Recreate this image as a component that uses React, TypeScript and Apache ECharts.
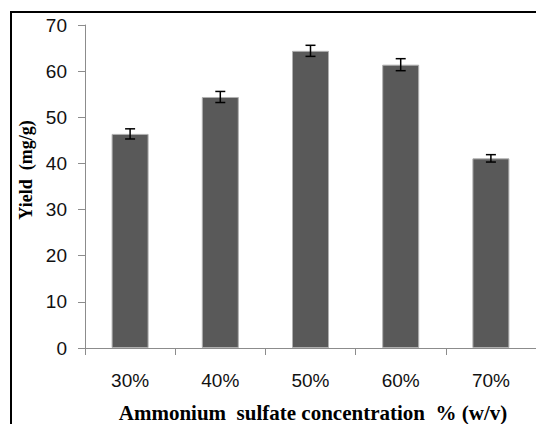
import React, { useEffect, useRef } from "react";
import * as echarts from "echarts";

const categories = ["30%", "40%", "50%", "60%", "70%"];
const yieldValues = [46.4, 54.4, 64.4, 61.4, 41.1];
const errorValues = [1.1, 1.2, 1.2, 1.3, 0.8];
const yTicks = { min: 0, max: 70, interval: 10 };
const xTitle = "Ammonium  sulfate concentration  % (w/v)";
const yTitle = "Yield  (mg/g)";

export default function App() {
  const ref = useRef<HTMLDivElement>(null);
  useEffect(() => {
    if (!ref.current) return;
    const chart = echarts.init(ref.current, null, { renderer: "svg" });
    const errData = yieldValues.map((v, i) => [i, v - errorValues[i], v + errorValues[i]]);
    chart.setOption({
      animation: false,
      backgroundColor: "#ffffff",
      grid: { left: 85, top: 25, width: 455, height: 323 },
      xAxis: {
        type: "category",
        data: categories,
        axisLine: { lineStyle: { color: "#8c8c8c", width: 1 } },
        axisTick: { show: true, length: 7, lineStyle: { color: "#8c8c8c" } },
        axisLabel: {
          color: "#111",
          fontSize: 19,
          fontFamily: "Liberation Sans",
          margin: 23,
        },
      },
      yAxis: {
        type: "value",
        min: yTicks.min,
        max: yTicks.max,
        interval: yTicks.interval,
        splitLine: { show: false },
        axisLine: { show: true, lineStyle: { color: "#8c8c8c", width: 1 } },
        axisTick: { show: true, length: 7, lineStyle: { color: "#8c8c8c" } },
        axisLabel: {
          color: "#111",
          fontSize: 19,
          fontFamily: "Liberation Sans",
          margin: 18,
        },
      },
      series: [
        {
          type: "bar",
          data: yieldValues,
          barWidth: 37,
          itemStyle: { color: "#595959", borderColor: "#b0b0b0", borderWidth: 1 },
        },
        {
          type: "custom",
          data: errData,
          z: 10,
          renderItem: (params: any, api: any) => {
            const x = api.value(0);
            const lo = api.coord([x, api.value(1)]);
            const hi = api.coord([x, api.value(2)]);
            const cx = lo[0];
            const w = 5;
            const style = { stroke: "#000", lineWidth: 1.5 };
            return {
              type: "group",
              children: [
                { type: "line", shape: { x1: cx, y1: lo[1], x2: cx, y2: hi[1] }, style },
                { type: "line", shape: { x1: cx - w, y1: lo[1], x2: cx + w, y2: lo[1] }, style },
                { type: "line", shape: { x1: cx - w, y1: hi[1], x2: cx + w, y2: hi[1] }, style },
              ],
            };
          },
        },
      ],
      graphic: [
        {
          type: "rect",
          shape: { x: 11, y: 12, width: 600, height: 600 },
          style: { fill: "none", stroke: "#000", lineWidth: 2 },
          silent: true,
        },
        {
          type: "text",
          x: 313,
          y: 413,
          style: {
            text: xTitle,
            fill: "#000",
            fontSize: 21,
            fontWeight: "bold",
            fontFamily: "Liberation Serif",
            align: "center",
            verticalAlign: "middle",
          },
        },
        {
          type: "text",
          x: 26,
          y: 170,
          rotation: Math.PI / 2,
          style: {
            text: yTitle,
            fill: "#000",
            fontSize: 18,
            fontWeight: "bold",
            fontFamily: "Liberation Serif",
            align: "center",
            verticalAlign: "middle",
          },
        },
      ],
    });
    return () => chart.dispose();
  }, []);
  return (
    <div
      ref={ref}
      style={{ position: "absolute", left: 0, top: 0, width: 536, height: 424 }}
    />
  );
}
